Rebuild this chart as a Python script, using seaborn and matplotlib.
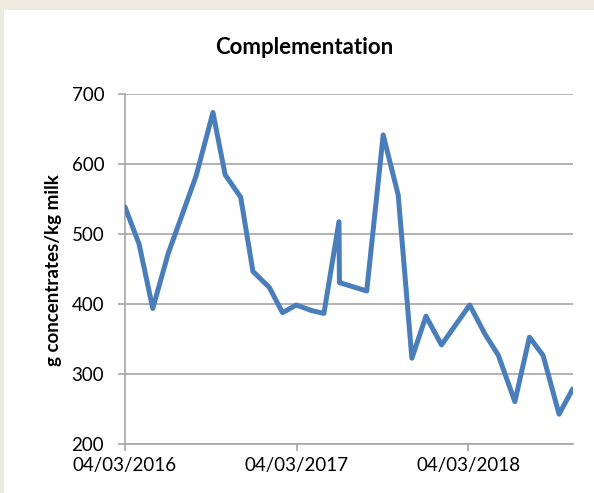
import pandas as pd
import matplotlib.pyplot as plt
import matplotlib.dates as mdates
import seaborn as sns
from matplotlib.patches import Rectangle

# -----------------------------------
# DATA
# -----------------------------------
dates = [
    "2016-03-04", "2016-04-03", "2016-05-02", "2016-06-04", "2016-07-02",
    "2016-08-02", "2016-09-07", "2016-10-03", "2016-11-05", "2016-12-01",
    "2017-01-05", "2017-02-02", "2017-03-03", "2017-04-05", "2017-05-01",
    "2017-06-02", "2017-06-03", "2017-07-31", "2017-09-04", "2017-10-06",
    "2017-11-04", "2017-12-04", "2018-01-06", "2018-03-07", "2018-04-08",
    "2018-05-07", "2018-06-11", "2018-07-12", "2018-08-10", "2018-09-13",
    "2018-10-12",
]
concentrates = [
    539, 486, 394, 473, 525,
    583, 674, 585, 553, 447,
    424, 388, 399, 391, 387,
    518, 431, 419, 642, 556,
    323, 383, 342, 399, 358,
    327, 261, 353, 327, 243,
    279,
]
x_ticks = ["2016-03-04", "2017-03-04", "2018-03-04"]
y_ticks = [200, 300, 400, 500, 600, 700]

df = pd.DataFrame({
    "date": pd.to_datetime(dates),
    "value": concentrates,
})

# -----------------------------------
# STYLE
# -----------------------------------
sns.set_style("white")
plt.rcParams["font.family"] = ["Lato", "DejaVu Sans"]

grid_color = "#A6A6A6"

fig = plt.figure(figsize=(5.94, 4.93), dpi=100, facecolor="#EEECE1")
fig.patches.append(
    Rectangle((4 / 594, 0), 1, 1 - 10 / 493, transform=fig.transFigure,
              facecolor="white", edgecolor="none", zorder=-10)
)

ax = fig.add_axes([125 / 594, 1 - 444.3 / 493, (572.7 - 125) / 594, 350 / 493])
ax.set_facecolor("white")

sns.lineplot(
    data=df,
    x="date",
    y="value",
    color="#4A7EBB",
    linewidth=3.6,
    ax=ax,
    zorder=3,
)

# -----------------------------------
# AXES
# -----------------------------------
ax.set_ylim(200, 700)
ax.set_xlim(df["date"].min(), df["date"].max())
ax.set_yticks(y_ticks)
tick_dates = pd.to_datetime(x_ticks)
ax.set_xticks(tick_dates)
ax.xaxis.set_major_formatter(mdates.DateFormatter("%d/%m/%Y"))

ax.grid(axis="y", color=grid_color, linewidth=1.2)
ax.grid(axis="x", visible=False)

for side in ["top", "right"]:
    ax.spines[side].set_visible(False)
for side in ["left", "bottom"]:
    ax.spines[side].set_color(grid_color)
    ax.spines[side].set_linewidth(1.2)

ax.tick_params(axis="both", which="major", length=5, width=1.2,
               color=grid_color, labelsize=13.5, labelcolor="black",
               direction="out", bottom=True, left=True)
ax.tick_params(axis="y", pad=10)
ax.tick_params(axis="x", pad=4)

ax.set_xlabel("")
ax.set_ylabel("")
fig.text(54 / 594, 1 - 270 / 493, "g concentrates/kg milk", rotation=90,
         ha="center", va="center", fontsize=13.5, fontweight="bold",
         color="black")
fig.text(304 / 594, 1 - 47 / 493, "Complementation", ha="center",
         va="center", fontsize=16, fontweight="bold", color="black")

plt.savefig("out.png", dpi=100, facecolor=fig.get_facecolor())
